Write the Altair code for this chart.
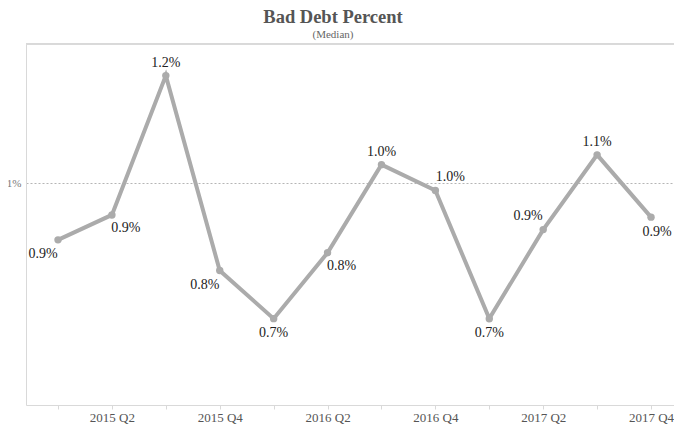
import altair as alt
import pandas as pd

quarters = ["2015 Q1", "2015 Q2", "2015 Q3", "2015 Q4",
            "2016 Q1", "2016 Q2", "2016 Q3", "2016 Q4",
            "2017 Q1", "2017 Q2", "2017 Q3", "2017 Q4"]
bad_debt = [0.00873, 0.00929, 0.01242, 0.00804, 0.00696, 0.00844,
            0.01042, 0.00984, 0.00696, 0.00896, 0.01064, 0.00924]
label_side = ["below-left", "below-right", "above", "below-left", "below", "below-right",
              "above", "above-right", "below", "above-left", "above", "below-right-edge"]
reference_value = [0.01]

df = pd.DataFrame({"quarter": quarters, "value": bad_debt, "side": label_side})

SERIF = "Liberation Serif"
GRAY = "#ababab"

x_enc = alt.X("quarter:O", sort=quarters, title=None,
              scale=alt.Scale(type="point", padding=0.51, align=0.582),
              axis=alt.Axis(labelAngle=0, labelFont=SERIF, labelFontSize=13, labelColor="#555",
                            domainColor="#d9d9d9", tickColor="#d9d9d9", tickSize=4,
                            labelPadding=2,
                            labelExpr="indexof(datum.label, 'Q1') >= 0 || indexof(datum.label, 'Q3') >= 0 ? '' : datum.label"))
y_enc = alt.Y("value:Q", title=None,
              scale=alt.Scale(domain=[0.00502, 0.01313], zero=False, nice=False),
              axis=alt.Axis(values=reference_value, format=".0%", labelFont=SERIF, labelFontSize=11,
                            labelColor="#777", domainColor="#d9d9d9", ticks=False, labelPadding=5,
                            grid=True, gridDash=[2, 2], gridColor="#b5b5b5"))

base = alt.Chart(df)

line = base.mark_line(color=GRAY, strokeWidth=4).encode(x=x_enc, y=y_enc)
points = base.mark_circle(color=GRAY, size=55, opacity=1).encode(x=x_enc, y=y_enc)

offsets = {
    "above": (0, -13),
    "below": (0, 14),
    "below-left": (-15, 14),
    "below-right": (14, 13),
    "below-right-edge": (6, 15),
    "above-left": (-15, -14),
    "above-right": (15, -13),
}
label_layers = []
for side, (dx, dy) in offsets.items():
    label_layers.append(
        base.transform_filter(alt.datum.side == side).mark_text(
            font=SERIF, fontSize=14, color="#222", dx=dx, dy=dy, baseline="middle", align="center"
        ).encode(x=x_enc, y=y_enc, text=alt.Text("value:Q", format=".1%"))
    )

top_border = alt.Chart(df).mark_rule(color="#d9d9d9", strokeWidth=1).encode(y=alt.value(0))

chart = alt.layer(top_border, line, points, *label_layers).properties(
    width=648,
    height=361,
    title=alt.TitleParams(
        text="Bad Debt Percent", subtitle="(Median)", font=SERIF, fontSize=18.5, fontWeight="bold",
        color="#555", subtitleFont=SERIF, subtitleFontSize=11, subtitleColor="#666",
        anchor="middle", dx=-17, offset=4, subtitlePadding=2,
    ),
    autosize=alt.AutoSizeParams(type="none"),
    padding={"left": 18, "top": 36, "right": 0, "bottom": 19},
).configure_view(stroke=None)

chart.save("out.html", embed_options={"renderer": "svg", "actions": False})
